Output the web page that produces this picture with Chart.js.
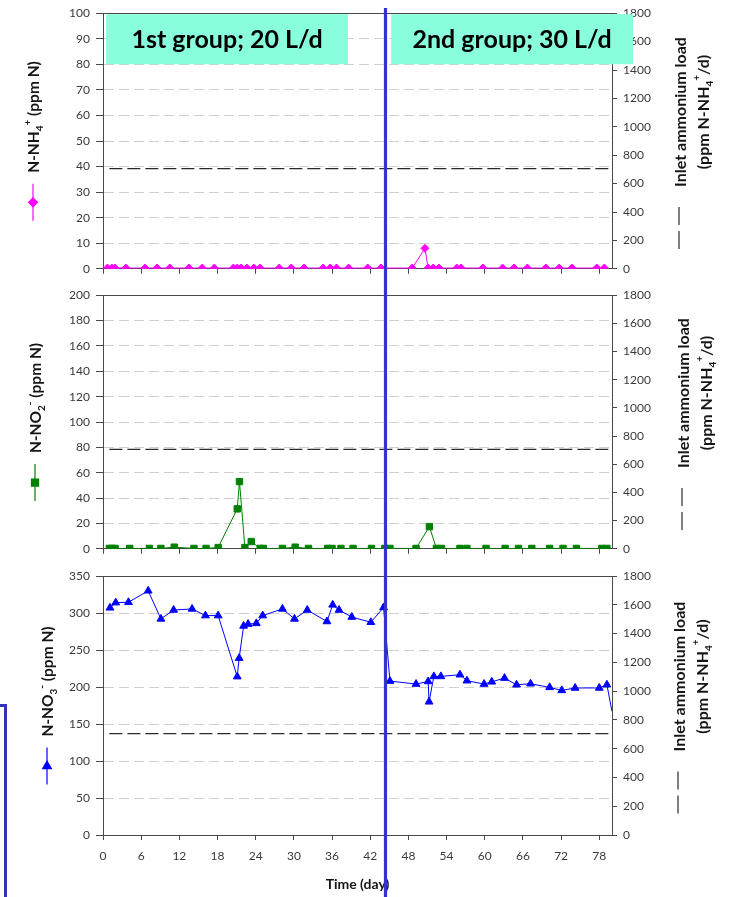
<!DOCTYPE html>
<html>
<head>
<meta charset="utf-8">
<title>Nitrogen species in the effluent</title>
<script src="https://cdn.jsdelivr.net/npm/chart.js@4.4.1/dist/chart.umd.min.js"></script>
<style>
  html, body { margin: 0; padding: 0; background: #fff; }
  body { position: relative; width: 731px; height: 897px; overflow: hidden; }
  canvas { position: absolute; left: 0; }
  #c1 { top: 0; }
  #c2 { top: 282px; }
  #c3 { top: 562px; }
  .bracket { position: absolute; left: -13px; top: 704px; width: 14px; height: 220px; border: 3px solid #3434b4; }
</style>
</head>
<body>
<canvas id="c1" width="731" height="282"></canvas>
<canvas id="c2" width="731" height="280"></canvas>
<canvas id="c3" width="731" height="335"></canvas>
<div class="bracket"></div>
<script>
// time axis (day)
const dayMin = 0;
const dayMax = 80;
const dayStep = 6;
const groupSwitchDay = 44.4;
const groupLabels = ['1st group; 20 L/d', '2nd group; 30 L/d'];

// N-NH4+ (ppm N)
const nh4Days = [0.7, 1.4, 1.9, 3.6, 6.6, 8.5, 10.5, 13.5, 15.6, 17.5, 20.5, 21.1, 21.7, 22.6, 23.7, 24.7,
  27.7, 29.6, 31.6, 34.6, 35.7, 36.7, 38.6, 41.6, 43.7, 48.6, 50.6, 51.1, 51.9, 52.8, 55.6, 56.3,
  59.7, 62.8, 64.6, 66.7, 69.6, 71.7, 73.7, 77.6, 78.8];
const nh4Values = [0.3, 0.3, 0.3, 0.3, 0.3, 0.3, 0.3, 0.3, 0.3, 0.3, 0.3, 0.3, 0.3, 0.3, 0.3, 0.3,
  0.3, 0.3, 0.3, 0.3, 0.3, 0.3, 0.3, 0.3, 0.3, 0.3, 8.0, 0.3, 0.3, 0.3, 0.3, 0.3,
  0.3, 0.3, 0.3, 0.3, 0.3, 0.3, 0.3, 0.3, 0.3];

// N-NO2- (ppm N)
const no2Days = [1.0, 1.4, 1.9, 4.2, 7.3, 9.1, 11.2, 14.3, 16.2, 18.1, 21.1, 21.45, 22.3, 23.3, 24.7, 25.2,
  28.2, 30.2, 32.3, 35.3, 36.0, 37.4, 39.3, 42.2, 44.3, 45.1, 49.2, 51.3, 52.4, 53.2, 56.1, 57.2,
  60.2, 63.2, 65.3, 67.4, 70.2, 72.3, 74.4, 78.4, 79.2];
const no2Values = [0.3, 0.3, 0.3, 0.3, 0.3, 0.3, 1.3, 0.3, 0.3, 1.0, 31.5, 53, 1.0, 5.7, 0.3, 0.3,
  0.3, 1.3, 0.3, 0.3, 0.3, 0.3, 0.3, 0.3, 0.3, 0.3, 0.3, 17.5, 0.3, 0.3, 0.3, 0.3,
  0.3, 0.3, 0.3, 0.3, 0.3, 0.3, 0.3, 0.3, 0.3];

// N-NO3- (ppm N)
const no3Days = [1.1, 2.0, 4.0, 7.1, 9.1, 11.1, 14.0, 16.1, 18.1, 21.1, 21.4, 22.1, 22.8, 24.1, 25.1,
  28.2, 30.1, 32.1, 35.2, 36.1, 37.1, 39.1, 42.1, 44.1, 45.1, 49.2, 51.1, 51.25, 52.0, 53.1, 56.1, 57.2,
  59.9, 61.1, 63.1, 65.0, 67.2, 70.2, 72.1, 74.2, 78.0, 79.2, 80.0];
const no3Values = [307, 314, 314.5, 330, 292, 304, 305.5, 296.5, 296.5, 214, 239, 282.5, 285, 286, 296.5,
  305.5, 292, 304, 288.5, 311, 304, 294.5, 287.5, 307.5, 208, 204, 207.5, 180, 214.3, 214.3, 216.6, 208.5,
  204, 207, 212, 203, 204.4, 199.5, 195.4, 198.7, 198.7, 203, 167];

// inlet ammonium load (ppm N-NH4+/d), right axis
const loadDays = [1, 80];
const loadValues = [705, 705];

// axis titles, as [text, 'sub' | 'sup' | undefined]
const nh4Title = [['N-NH'], ['4', 'sub'], ['+', 'sup'], [' (ppm N)']];
const no2Title = [['N-NO'], ['2', 'sub'], ['-', 'sup'], [' (ppm N)']];
const no3Title = [['N-NO'], ['3', 'sub'], ['-', 'sup'], [' (ppm N)']];
const loadTitle1 = [['Inlet ammonium load']];
const loadTitle2 = [['(ppm N-NH'], ['4', 'sub'], ['+', 'sup'], ['/d)']];

Chart.defaults.font.family = 'Lato';

const axisInk = '#484848';
const labelInk = '#3a3a3a';
const titleInk = '#151515';

function pairs(xs, ys) {
  return xs.map((x, i) => ({ x: x, y: ys[i] }));
}

function partFont(p, size) {
  return 'bold ' + (p[1] ? Math.round(size * 0.62) : size) + 'px Lato';
}

function richWidth(ctx, parts, size) {
  let w = 0;
  parts.forEach(p => { ctx.font = partFont(p, size); w += ctx.measureText(p[0]).width; });
  return w;
}

function drawRich(ctx, parts, x, y, size) {
  ctx.textAlign = 'left';
  ctx.textBaseline = 'middle';
  parts.forEach(p => {
    ctx.font = partFont(p, size);
    const dy = p[1] === 'sub' ? size * 0.38 : p[1] === 'sup' ? -size * 0.42 : 0;
    ctx.fillText(p[0], x, y + dy);
    x += ctx.measureText(p[0]).width;
  });
}

// font size that makes a title as long as the given length
function fitSize(ctx, parts, len) {
  return Math.round(len / richWidth(ctx, parts, 10) * 10 * 2) / 2;
}

const deco = {
  id: 'deco',
  afterDraw(chart, args, o) {
    const { ctx, chartArea: a } = chart;
    const x = chart.scales.x;
    const cy = (a.top + a.bottom) / 2;
    ctx.save();

    // top frame line
    ctx.strokeStyle = axisInk;
    ctx.lineWidth = 1;
    ctx.beginPath();
    ctx.moveTo(a.left, Math.round(a.top) + 0.5);
    ctx.lineTo(a.right, Math.round(a.top) + 0.5);
    ctx.stroke();

    // left title with its series symbol below it
    const lSize = fitSize(ctx, o.leftTitle, 110);
    const lLen = richWidth(ctx, o.leftTitle, lSize);
    const lT = 37 + 11 + lLen;
    const mBottom = cy + lT / 2;
    ctx.strokeStyle = o.color;
    ctx.fillStyle = o.color;
    ctx.lineWidth = 1.2;
    ctx.beginPath();
    ctx.moveTo(o.leftX, mBottom - 37);
    ctx.lineTo(o.leftX, mBottom);
    ctx.stroke();
    Chart.helpers.drawPoint(ctx, { pointStyle: o.marker, radius: o.radius + 0.5, rotation: 0, borderWidth: 1 }, o.leftX, mBottom - 18.5);
    ctx.save();
    ctx.translate(o.leftX + 1, cy);
    ctx.rotate(-Math.PI / 2);
    ctx.fillStyle = titleInk;
    drawRich(ctx, o.leftTitle, -lT / 2 + 48, 0, lSize);
    ctx.restore();

    // right title with the dashed load symbol below it
    const rSize = fitSize(ctx, loadTitle1, 149);
    const r1 = richWidth(ctx, loadTitle1, rSize);
    const r2 = richWidth(ctx, loadTitle2, rSize);
    const rT = r1 + 20 + 42;
    const rcy = cy + 2;
    const dBottom = rcy + rT / 2;
    ctx.strokeStyle = '#555';
    ctx.lineWidth = 1.5;
    ctx.setLineDash([18, 6]);
    ctx.beginPath();
    ctx.moveTo(o.rightX - 2, dBottom - 42);
    ctx.lineTo(o.rightX - 2, dBottom);
    ctx.stroke();
    ctx.setLineDash([]);
    ctx.save();
    ctx.translate(o.rightX, rcy);
    ctx.rotate(-Math.PI / 2);
    ctx.fillStyle = titleInk;
    const c1 = -rT / 2 + 62 + r1 / 2;
    drawRich(ctx, loadTitle1, c1 - r1 / 2, 0, rSize);
    drawRich(ctx, loadTitle2, c1 - r2 / 2, 23, rSize);
    ctx.restore();

    // group boxes
    if (o.groups) {
      o.groups.forEach((g, i) => {
        const x1 = x.getPixelForValue(g[0]);
        const x2 = x.getPixelForValue(g[1]);
        ctx.fillStyle = '#88fedd';
        ctx.fillRect(x1, a.top + 1, x2 - x1, 50);
        ctx.fillStyle = '#000';
        ctx.font = 'bold 25px Lato';
        ctx.textAlign = 'center';
        ctx.textBaseline = 'middle';
        ctx.fillText(groupLabels[i], (x1 + x2) / 2, a.top + 27);
      });
    }

    // change of group
    const bx = x.getPixelForValue(groupSwitchDay);
    ctx.fillStyle = '#3434cc';
    ctx.fillRect(bx - 1.6, o.lineTop, 3.2, chart.height - o.lineTop);
    ctx.restore();
  }
};

function panel(id, p) {
  const tickFont = { family: 'Lato', size: 12 };
  const plain = v => String(v);
  return new Chart(document.getElementById(id), {
    type: 'line',
    data: {
      datasets: [
        {
          data: pairs(p.days, p.values),
          borderColor: p.color,
          backgroundColor: p.color,
          borderWidth: 1,
          pointStyle: p.marker,
          pointRadius: c => (c.raw && c.raw.x >= dayMax ? 0 : p.radius),
          pointBorderWidth: 1,
          tension: 0,
          yAxisID: 'y'
        },
        {
          data: pairs(loadDays, loadValues),
          borderColor: '#2a2a2a',
          borderWidth: 1.3,
          borderDash: [13, 5],
          pointRadius: 0,
          yAxisID: 'y2'
        }
      ]
    },
    options: {
      responsive: false,
      animation: false,
      devicePixelRatio: 1,
      layout: { padding: { top: p.padTop, left: 0, right: 0, bottom: 0 } },
      plugins: {
        legend: { display: false },
        tooltip: { enabled: false },
        deco: {
          color: p.color, marker: p.marker, radius: p.radius,
          leftTitle: p.title, leftX: p.leftX, rightX: p.rightX,
          groups: p.groups, lineTop: p.lineTop
        }
      },
      scales: {
        x: {
          type: 'linear',
          min: dayMin,
          max: dayMax,
          grid: { drawOnChartArea: false, drawTicks: true, tickLength: 5, tickColor: axisInk },
          border: { color: axisInk },
          ticks: {
            display: p.xLabels, stepSize: dayStep, includeBounds: false, autoSkip: false,
            maxRotation: 0, padding: 9, font: tickFont, color: labelInk, callback: plain
          },
          title: {
            display: p.xLabels, text: 'Time (day)', color: titleInk,
            font: { family: 'Lato', size: 14, weight: 'bold' }, padding: { top: 0, bottom: 4 }
          },
          afterFit: s => { s.height = p.xHeight; }
        },
        y: {
          position: 'left',
          min: 0,
          max: p.max,
          grid: {
            color: c => (c.tick && (c.tick.value === 0 || c.tick.value === p.max) ? 'rgba(0,0,0,0)' : '#cfcfcf'),
            tickColor: axisInk, tickLength: 7
          },
          border: { color: axisInk, dash: [10, 5] },
          ticks: { stepSize: p.step, padding: 6, font: tickFont, color: labelInk, callback: plain },
          afterFit: s => { s.width = 103; }
        },
        y2: {
          position: 'right',
          min: 0,
          max: 1800,
          grid: { drawOnChartArea: false, tickColor: axisInk, tickLength: 5 },
          border: { color: axisInk },
          ticks: { stepSize: 200, padding: 6, font: tickFont, color: labelInk, callback: plain },
          afterFit: s => { s.width = 119; }
        }
      }
    },
    plugins: [deco]
  });
}

panel('c1', {
  days: nh4Days, values: nh4Values, color: '#ff00ff', marker: 'rectRot', radius: 4,
  max: 100, step: 10, title: nh4Title, leftX: 33, rightX: 681,
  padTop: 12, xHeight: 12, xLabels: false, lineTop: 8,
  groups: [[0.5, 38.5], [45.3, 83.3]]
});

panel('c2', {
  days: no2Days, values: no2Values, color: '#008000', marker: 'rect', radius: 4.5,
  max: 200, step: 20, title: no2Title, leftX: 35, rightX: 684,
  padTop: 9, xHeight: 13, xLabels: false, lineTop: 0
});

panel('c3', {
  days: no3Days, values: no3Values, color: '#0000ff', marker: 'triangle', radius: 4.5,
  max: 350, step: 50, title: no3Title, leftX: 47, rightX: 680,
  padTop: 14, xHeight: 62, xLabels: true, lineTop: 0
});
</script>
</body>
</html>
